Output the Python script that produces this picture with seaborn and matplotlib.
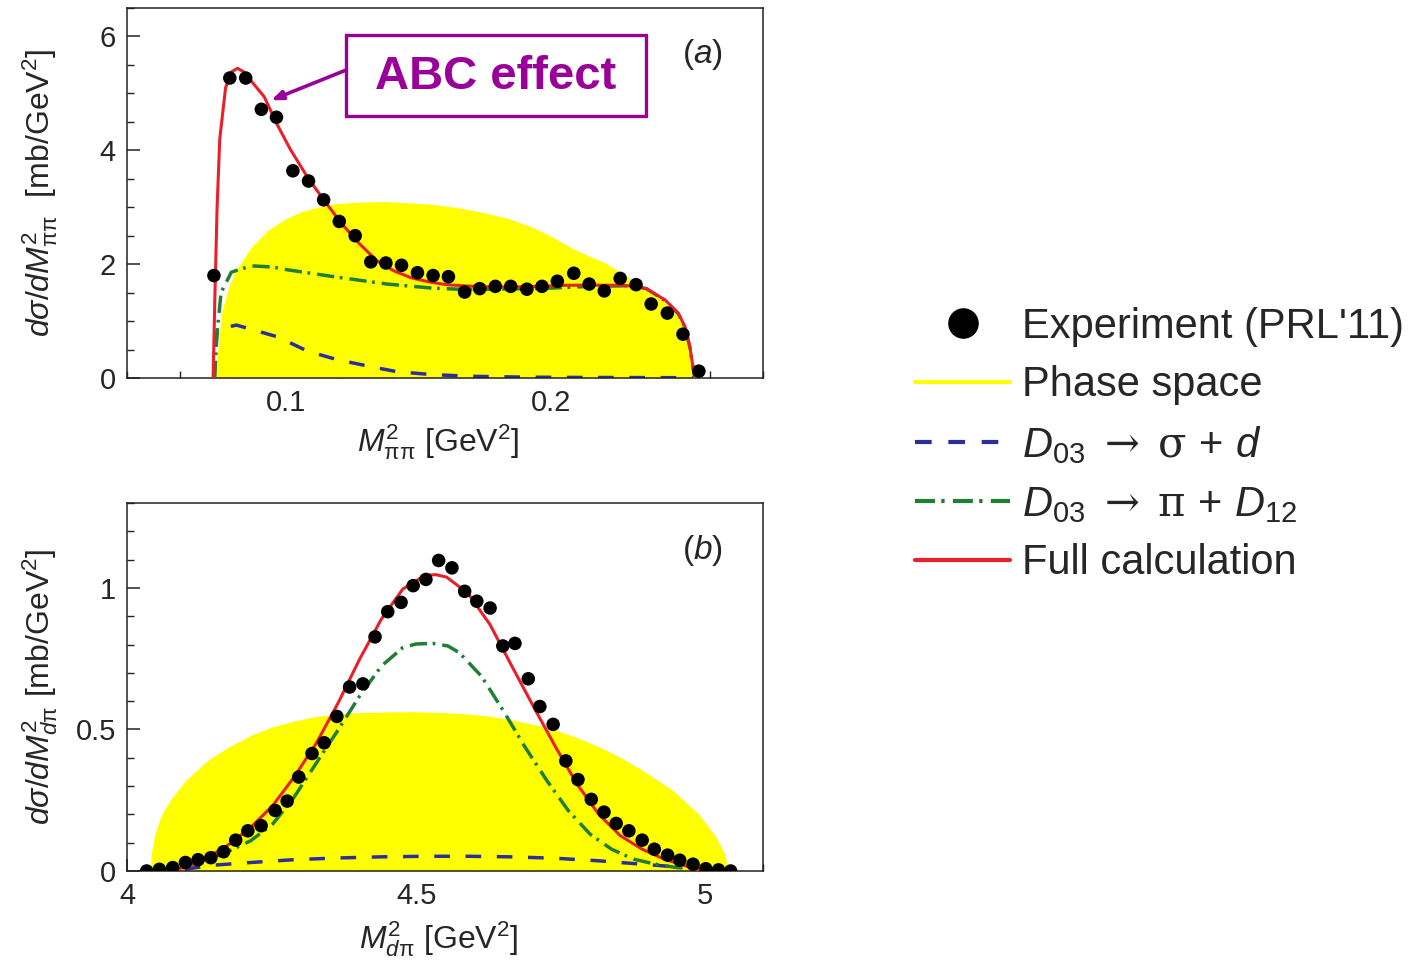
import matplotlib
matplotlib.use("Agg")
import matplotlib.pyplot as plt
from matplotlib.lines import Line2D
from matplotlib.patches import Rectangle
from matplotlib.ticker import MultipleLocator
import seaborn as sns
import numpy as np

# ---- panel (a): M_pipi^2 spectrum ----
dots_a_x = [0.0728, 0.0788, 0.0848, 0.0907, 0.0964, 0.1026, 0.1085, 0.1142, 0.1201, 0.1261,
            0.1320, 0.1377, 0.1436, 0.1496, 0.1555, 0.1613, 0.1674, 0.1731, 0.1790, 0.1848,
            0.1909, 0.1966, 0.2024, 0.2086, 0.2144, 0.2201, 0.2261, 0.2321, 0.2378, 0.2439,
            0.2498, 0.2558]
dots_a_y = [1.80, 5.27, 5.27, 4.72, 4.58, 3.64, 3.46, 3.13, 2.75, 2.50,
            2.04, 2.02, 1.98, 1.85, 1.80, 1.78, 1.51, 1.57, 1.61, 1.61,
            1.56, 1.61, 1.70, 1.84, 1.65, 1.53, 1.75, 1.64, 1.30, 1.14,
            0.77, 0.12]

phase_a_x = [0.0730, 0.0745, 0.0757, 0.0780, 0.0805, 0.0869, 0.0933, 0.1000, 0.1056, 0.1120,
             0.1180, 0.1270, 0.1367, 0.1460, 0.1554, 0.1650, 0.1742, 0.1840, 0.1929, 0.2000,
             0.2079, 0.2140, 0.2206, 0.2292, 0.2360, 0.2420, 0.2470, 0.2503, 0.2522, 0.2535]
phase_a_y = [0.00, 0.60, 1.14, 1.55, 1.84, 2.30, 2.60, 2.80, 2.92, 3.00,
             3.06, 3.09, 3.10, 3.08, 3.05, 2.99, 2.91, 2.80, 2.65, 2.49,
             2.28, 2.15, 2.02, 1.77, 1.55, 1.38, 1.12, 0.88, 0.52, 0.00]

red_a_x = [0.0725, 0.0732, 0.0740, 0.0750, 0.0772, 0.0795, 0.0817, 0.0840, 0.0861, 0.0918,
           0.0967, 0.1016, 0.1082, 0.1147, 0.1212, 0.1277, 0.1343, 0.1408, 0.1473, 0.1538,
           0.1604, 0.1669, 0.1767, 0.1865, 0.1962, 0.2060, 0.2158, 0.2256, 0.2320, 0.2360,
           0.2431, 0.2480, 0.2506, 0.2524, 0.2536, 0.2543]
red_a_y = [0.00, 1.50, 3.00, 4.20, 5.10, 5.38, 5.44, 5.38, 5.26, 4.94,
           4.45, 4.02, 3.52, 3.10, 2.70, 2.36, 2.06, 1.88, 1.76, 1.69,
           1.64, 1.62, 1.60, 1.60, 1.61, 1.63, 1.63, 1.63, 1.61, 1.57,
           1.37, 1.14, 0.90, 0.55, 0.19, 0.00]

green_a_x = [0.0730, 0.0740, 0.0755, 0.0794, 0.0869, 0.0950, 0.1007, 0.1180, 0.1382, 0.1550,
             0.1650, 0.1800, 0.2000, 0.2150, 0.2280, 0.2360, 0.2430, 0.2480, 0.2506, 0.2524,
             0.2536, 0.2543]
green_a_y = [0.00, 0.80, 1.50, 1.86, 1.97, 1.95, 1.90, 1.78, 1.65, 1.58,
             1.56, 1.56, 1.58, 1.61, 1.62, 1.57, 1.36, 1.13, 0.89, 0.54,
             0.18, 0.00]

blue_a_x = [0.0730, 0.0735, 0.0740, 0.0813, 0.0970, 0.1082, 0.1195, 0.1330, 0.1420, 0.1550,
            0.1700, 0.1900, 0.2100, 0.2300, 0.2500, 0.2543]
blue_a_y = [0.00, 0.50, 0.85, 0.93, 0.72, 0.47, 0.32, 0.19, 0.11, 0.06,
            0.03, 0.015, 0.010, 0.008, 0.005, 0.00]

# ---- panel (b): M_dpi^2 spectrum ----
dots_b_x = [4.034, 4.056, 4.079, 4.101, 4.123, 4.145, 4.167, 4.188, 4.209, 4.232,
            4.256, 4.277, 4.297, 4.320, 4.341, 4.363, 4.385, 4.408, 4.429, 4.451,
            4.474, 4.495, 4.517, 4.539, 4.562, 4.584, 4.605, 4.628, 4.650, 4.671,
            4.694, 4.714, 4.737, 4.759, 4.780, 4.803, 4.825, 4.846, 4.868, 4.891,
            4.912, 4.935, 4.956, 4.979, 5.001, 5.023, 5.044]
dots_b_y = [0.000, 0.006, 0.012, 0.030, 0.040, 0.047, 0.068, 0.109, 0.142, 0.160,
            0.214, 0.247, 0.332, 0.415, 0.453, 0.546, 0.650, 0.661, 0.827, 0.916,
            0.949, 1.008, 1.030, 1.097, 1.071, 0.988, 0.953, 0.929, 0.795, 0.804,
            0.679, 0.581, 0.518, 0.389, 0.323, 0.253, 0.208, 0.168, 0.142, 0.109,
            0.077, 0.056, 0.038, 0.024, 0.008, 0.004, 0.000]

phase_b_x = [4.0398, 4.042, 4.047, 4.056, 4.067, 4.079, 4.1015, 4.139, 4.177, 4.215,
             4.252, 4.290, 4.327, 4.365, 4.402, 4.450, 4.4925, 4.540, 4.590, 4.630,
             4.665, 4.705, 4.741, 4.780, 4.816, 4.855, 4.891, 4.944, 4.989, 5.019,
             5.034, 5.039]
phase_b_y = [0.000, 0.060, 0.120, 0.180, 0.225, 0.262, 0.320, 0.390, 0.440, 0.480,
             0.510, 0.530, 0.546, 0.555, 0.560, 0.562, 0.563, 0.560, 0.555, 0.546,
             0.534, 0.517, 0.498, 0.470, 0.439, 0.400, 0.356, 0.285, 0.200, 0.119,
             0.059, 0.000]

red_b_x = [4.060, 4.1015, 4.139, 4.177, 4.214, 4.252, 4.289, 4.327, 4.365, 4.402,
           4.440, 4.477, 4.515, 4.534, 4.553, 4.590, 4.628, 4.665, 4.703, 4.741,
           4.778, 4.816, 4.853, 4.891, 4.929, 4.966, 4.996, 5.020]
red_b_y = [0.000, 0.012, 0.047, 0.095, 0.154, 0.231, 0.332, 0.450, 0.593, 0.747,
           0.890, 0.996, 1.044, 1.047, 1.038, 0.980, 0.870, 0.726, 0.581, 0.439,
           0.308, 0.200, 0.125, 0.077, 0.042, 0.018, 0.002, 0.000]

green_b_x = [4.100, 4.140, 4.177, 4.214, 4.252, 4.289, 4.327, 4.365, 4.402, 4.440,
             4.477, 4.500, 4.529, 4.555, 4.575, 4.613, 4.650, 4.688, 4.726, 4.763,
             4.801, 4.838, 4.876, 4.914, 4.951, 4.970]
green_b_y = [0.012, 0.040, 0.071, 0.107, 0.166, 0.261, 0.380, 0.498, 0.617, 0.724,
             0.789, 0.802, 0.804, 0.795, 0.771, 0.688, 0.569, 0.439, 0.320, 0.214,
             0.130, 0.077, 0.042, 0.024, 0.012, 0.010]

blue_b_x = [4.100, 4.146, 4.214, 4.289, 4.365, 4.440, 4.515, 4.590, 4.665, 4.741,
            4.816, 4.891, 4.929, 4.960]
blue_b_y = [0.006, 0.020, 0.030, 0.040, 0.046, 0.050, 0.052, 0.052, 0.050, 0.045,
            0.036, 0.024, 0.018, 0.010]

legend_labels = ["Experiment (PRL'11)", "Phase space",
                 r"$D_{03}\ \mathsf{\rightarrow}\ \mathsf{\sigma}\,+\,d$",
                 r"$D_{03}\ \mathsf{\rightarrow}\ \mathsf{\pi}\,+\,D_{12}$",
                 "Full calculation"]

YELLOW = "#FFFF00"
RED = "#E8202A"
BLUE = "#2B2F9B"
GREEN = "#1E7F35"
PURPLE = "#990099"
BLUE_DASH = (0, (4.5, 4.5))
GREEN_DASH = (0, (5.0, 1.6, 0.8, 2.0))

sns.set_theme(style="ticks")
plt.rcParams['font.family'] = ['Liberation Sans', 'DejaVu Sans']
plt.rcParams['mathtext.fontset'] = 'custom'
plt.rcParams['mathtext.rm'] = 'Liberation Sans'
plt.rcParams['mathtext.it'] = 'Liberation Sans:italic'
plt.rcParams['mathtext.bf'] = 'Liberation Sans:bold'
plt.rcParams['mathtext.sf'] = 'DejaVu Serif'
plt.rcParams['axes.edgecolor'] = '#222222'
plt.rcParams['axes.linewidth'] = 1.1

W, H = 1411, 967
fig = plt.figure(figsize=(W / 100, H / 100), dpi=100)
ax_a = fig.add_axes([127 / W, 1 - 378 / H, 636 / W, 370 / H])
ax_b = fig.add_axes([127 / W, 1 - 871 / H, 636 / W, 368 / H])


def draw_panel(ax, px, py, bx, by, gx, gy, rx, ry, dx, dy):
    ax.fill_between(px, py, 0, color=YELLOW, lw=0, zorder=1)
    sns.lineplot(x=bx, y=by, ax=ax, color=BLUE, lw=2.5, linestyle=BLUE_DASH,
                 errorbar=None, zorder=2)
    sns.lineplot(x=gx, y=gy, ax=ax, color=GREEN, lw=2.5, linestyle=GREEN_DASH,
                 errorbar=None, zorder=3)
    sns.lineplot(x=rx, y=ry, ax=ax, color=RED, lw=2.2, errorbar=None, zorder=4)
    sns.scatterplot(x=dx, y=dy, ax=ax, color='black', s=95, edgecolor='none', zorder=5)
    ax.tick_params(which='both', direction='in', labelsize=21, pad=8, color='#222222')
    ax.tick_params(which='major', length=9, width=1.1)
    ax.tick_params(which='minor', length=5, width=1.0)


draw_panel(ax_a, phase_a_x, phase_a_y, blue_a_x, blue_a_y, green_a_x, green_a_y,
           red_a_x, red_a_y, dots_a_x, dots_a_y)
ax_a.set_xlim(0.04, 0.28)
ax_a.set_ylim(0, 6.5)
ax_a.set_xticks([0.1, 0.2])
ax_a.set_xticklabels(["0.1", "0.2"])
ax_a.set_yticks([0, 2, 4, 6])
ax_a.xaxis.set_minor_locator(MultipleLocator(0.02))
ax_a.yaxis.set_minor_locator(MultipleLocator(0.5))
ax_a.set_xlabel(r"$M^2_{\mathrm{\pi\pi}}$ [GeV$^2$]", fontsize=23)
ax_a.set_ylabel(r"$d\sigma/dM^2_{\mathrm{\pi\pi}}$  [mb/GeV$^2$]", fontsize=23)
ax_a.xaxis.set_label_coords(0.49, -0.12)
ax_a.yaxis.set_label_coords(-0.105, 0.5)
ax_a.text(0.904, 0.873, r"($\mathit{a}$)", transform=ax_a.transAxes, fontsize=24,
          ha='center', va='center')

# "ABC effect" callout: framed box plus arrow to the peak
box_x0, box_x1, box_y0, box_y1 = 0.344, 0.816, 0.708, 0.927
ax_a.add_patch(Rectangle((box_x0, box_y0), box_x1 - box_x0, box_y1 - box_y0,
                         transform=ax_a.transAxes, fc='white', ec=PURPLE, lw=2.4, zorder=6))
ax_a.text((box_x0 + box_x1) / 2, (box_y0 + box_y1) / 2 - 0.005, "ABC effect",
          transform=ax_a.transAxes, fontsize=34, fontweight='bold', color=PURPLE,
          ha='center', va='center', zorder=7)
ax_a.annotate("", xy=(0.0944, 4.88), xytext=(box_x0, 0.832), textcoords='axes fraction',
              arrowprops=dict(arrowstyle='-|>,head_length=0.55,head_width=0.22',
                              color=PURPLE, lw=2.6, shrinkA=0, shrinkB=0),
              zorder=6)

draw_panel(ax_b, phase_b_x, phase_b_y, blue_b_x, blue_b_y, green_b_x, green_b_y,
           red_b_x, red_b_y, dots_b_x, dots_b_y)
ax_b.set_xlim(4, 5.1)
ax_b.set_ylim(0, 1.3)
ax_b.set_xticks([4, 4.5, 5])
ax_b.set_xticklabels(["4", "4.5", "5"])
ax_b.set_yticks([0, 0.5, 1])
ax_b.set_yticklabels(["0", "0.5", "1"])
ax_b.xaxis.set_minor_locator(MultipleLocator(0.1))
ax_b.yaxis.set_minor_locator(MultipleLocator(0.1))
ax_b.set_xlabel(r"$M^2_{d\mathrm{\pi}}$ [GeV$^2$]", fontsize=23)
ax_b.set_ylabel(r"$d\sigma/dM^2_{d\mathrm{\pi}}$ [mb/GeV$^2$]", fontsize=23)
ax_b.xaxis.set_label_coords(0.49, -0.13)
ax_b.yaxis.set_label_coords(-0.105, 0.5)
ax_b.text(0.904, 0.87, r"($\mathit{b}$)", transform=ax_b.transAxes, fontsize=24,
          ha='center', va='center')

handles = [
    Line2D([], [], marker='o', ls='none', color='black', markersize=21),
    Line2D([], [], color=YELLOW, lw=3),
    Line2D([], [], color=BLUE, lw=3, linestyle=(0, (4, 4))),
    Line2D([], [], color=GREEN, lw=3, linestyle=(0, (4.8, 1.5, 0.8, 2.0))),
    Line2D([], [], color=RED, lw=3),
]
fig.legend(handles, legend_labels, loc='center left', bbox_to_anchor=(915 / W, 1 - 445 / H),
           frameon=False, fontsize=30, borderpad=0, borderaxespad=0, handlelength=2.28,
           handletextpad=0.29, labelspacing=0.45)

fig.savefig("out.png", dpi=100)
